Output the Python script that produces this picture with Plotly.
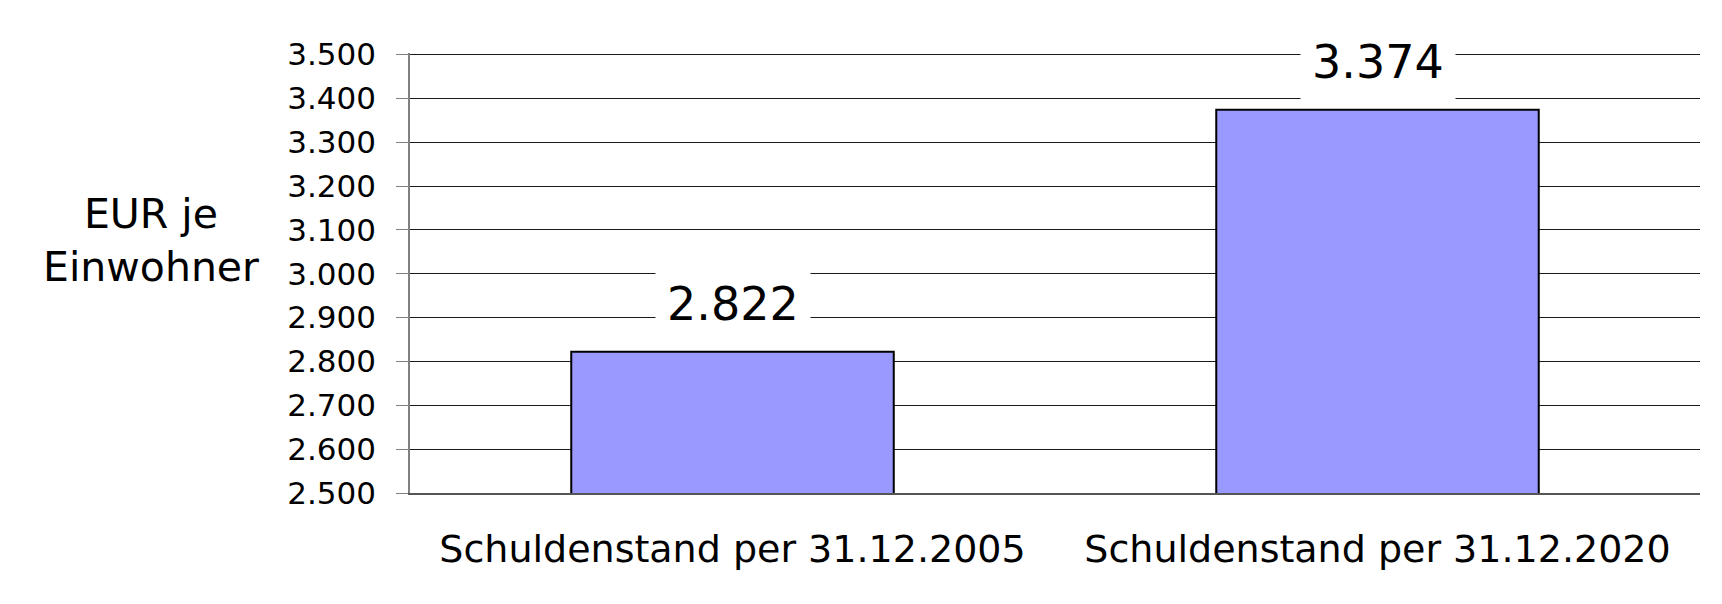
import plotly.graph_objects as go

categories = ["Schuldenstand per 31.12.2005", "Schuldenstand per 31.12.2020"]
values = [2822, 3374]
y_title = "EUR je<br>Einwohner"

# the page body keeps an 8px margin, so the figure is drawn 8px in from the
# top-left corner; size it to fit the 1722x604 window exactly
W, H = 1714, 596
L, R, T, B = 402, 22, 45, 111
FONT = "DejaVu Sans"


def de_fmt(v):
    return f"{v:,}".replace(",", ".")


fig = go.Figure(
    go.Bar(
        x=categories,
        y=values,
        marker=dict(color="#9999FF", line=dict(color="#000000", width=2)),
        width=0.5,
        hoverinfo="skip",
    )
)

for c, v in zip(categories, values):
    fig.add_annotation(
        x=c, y=v, xref="x", yref="y",
        text=de_fmt(v),
        showarrow=False,
        yanchor="middle", xanchor="center",
        yshift=48,
        font=dict(family=FONT, size=46, color="#000000"),
        bgcolor="#FFFFFF",
        borderpad=11,
    )

pw = W - L - R
ph = H - T - B


def px_x(px):
    return (px - L) / pw


def px_y(py):
    return (H - B - py) / ph


fig.add_annotation(
    xref="paper", yref="paper",
    x=px_x(143), y=px_y(232),
    text=y_title, showarrow=False,
    xanchor="center", yanchor="middle", align="center",
    font=dict(family=FONT, size=41, color="#000000"),
)

fig.update_layout(
    width=W, height=H,
    margin=dict(l=L, r=R, t=T, b=B, pad=0),
    paper_bgcolor="#FFFFFF",
    plot_bgcolor="#FFFFFF",
    separators=",.",
    showlegend=False,
    bargap=0.5,
    font=dict(family=FONT, color="#000000"),
)

fig.update_yaxes(
    range=[2500, 3503.5],
    dtick=100, tick0=2500,
    tickformat=",d",
    showgrid=True, gridcolor="#1a1a1a", gridwidth=1,
    showline=True, linecolor="#808080", linewidth=1.5,
    ticks="outside", ticklen=12, tickcolor="#808080", tickwidth=1,
    ticklabelstandoff=14,
    tickfont=dict(family=FONT, size=31, color="#000000"),
    zeroline=False,
)

fig.update_xaxes(
    showgrid=False,
    showline=True, linecolor="#555555", linewidth=1.5,
    ticks="outside", ticklen=22, tickcolor="rgba(0,0,0,0)",
    tickfont=dict(family=FONT, size=38, color="#000000"),
)

fig.write_html("out.html")
